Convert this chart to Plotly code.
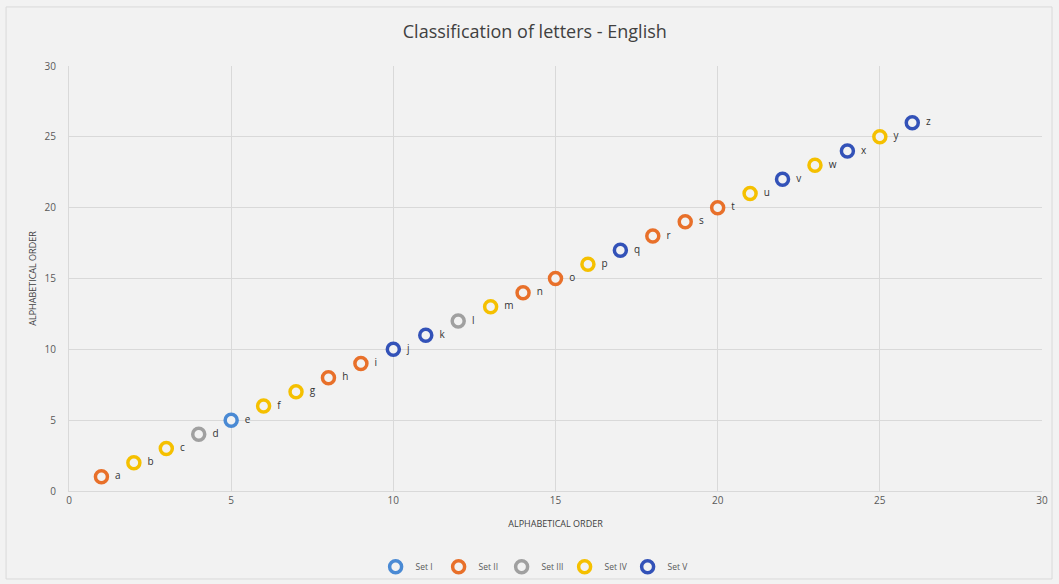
import plotly.graph_objects as go

letters = list("abcdefghijklmnopqrstuvwxyz")
order = list(range(1, 27))
sets = ["Set II", "Set IV", "Set IV", "Set III", "Set I", "Set IV", "Set IV", "Set II", "Set II",
        "Set V", "Set V", "Set III", "Set IV", "Set II", "Set II", "Set IV", "Set V", "Set II",
        "Set II", "Set II", "Set IV", "Set V", "Set IV", "Set V", "Set IV", "Set V"]
set_names = ["Set I", "Set II", "Set III", "Set IV", "Set V"]
set_colors = ["#4A8AD4", "#E8702A", "#A0A0A0", "#F5C000", "#3352B8"]

fig = go.Figure()
for name, color in zip(set_names, set_colors):
    xs = [o for o, s in zip(order, sets) if s == name]
    ys = xs
    txt = ["  " + l for l, s in zip(letters, sets) if s == name]
    fig.add_trace(go.Scatter(
        x=xs, y=ys, mode="markers+text", name=name, text=txt,
        textposition="middle right",
        textfont=dict(size=10, color="#333333", family="Open Sans"),
        marker=dict(symbol="circle", size=12, color="#F2F2F2",
                    line=dict(color=color, width=3.5)),
        cliponaxis=False,
    ))

fig.update_layout(
    width=1059, height=584,
    paper_bgcolor="#F2F2F2", plot_bgcolor="#F2F2F2",
    margin=dict(l=69, r=17, t=66, b=93, autoexpand=False),
    title=dict(text="Classification of letters - English", x=0.505, xanchor="center",
               y=0.945, yanchor="middle",
               font=dict(family="Open Sans", size=18, color="#404040")),
    font=dict(family="Open Sans", color="#595959"),
    legend=dict(orientation="h", x=0.477, xanchor="center", y=-0.178, yanchor="middle",
                font=dict(size=8.5, color="#595959"), itemwidth=30,
                entrywidth=18, entrywidthmode="pixels",
                bgcolor="rgba(0,0,0,0)", tracegroupgap=0),
    showlegend=True,
)
fig.update_xaxes(range=[0, 30], dtick=5, tick0=0, showgrid=True, gridcolor="#D9D9D9",
                 gridwidth=1, zeroline=False, showline=True, linecolor="#D9D9D9",
                 ticks="", tickfont=dict(size=10, color="#595959"),
                 title=dict(text="ALPHABETICAL ORDER", font=dict(size=9, color="#404040"), standoff=14))
fig.update_yaxes(range=[0, 30], dtick=5, tick0=0, showgrid=True, gridcolor="#D9D9D9",
                 gridwidth=1, zeroline=False, showline=True, linecolor="#D9D9D9",
                 ticks="", tickfont=dict(size=10, color="#595959"), ticklabelstandoff=10,
                 title=dict(text="ALPHABETICAL ORDER", font=dict(size=9, color="#404040"), standoff=6))
fig.add_shape(type="rect", xref="paper", yref="paper", x0=-0.0647, x1=1.0103, y0=-0.207, y1=1.139,
              line=dict(color="#D9D9D9", width=1), layer="below")

fig.write_html("out.html")
